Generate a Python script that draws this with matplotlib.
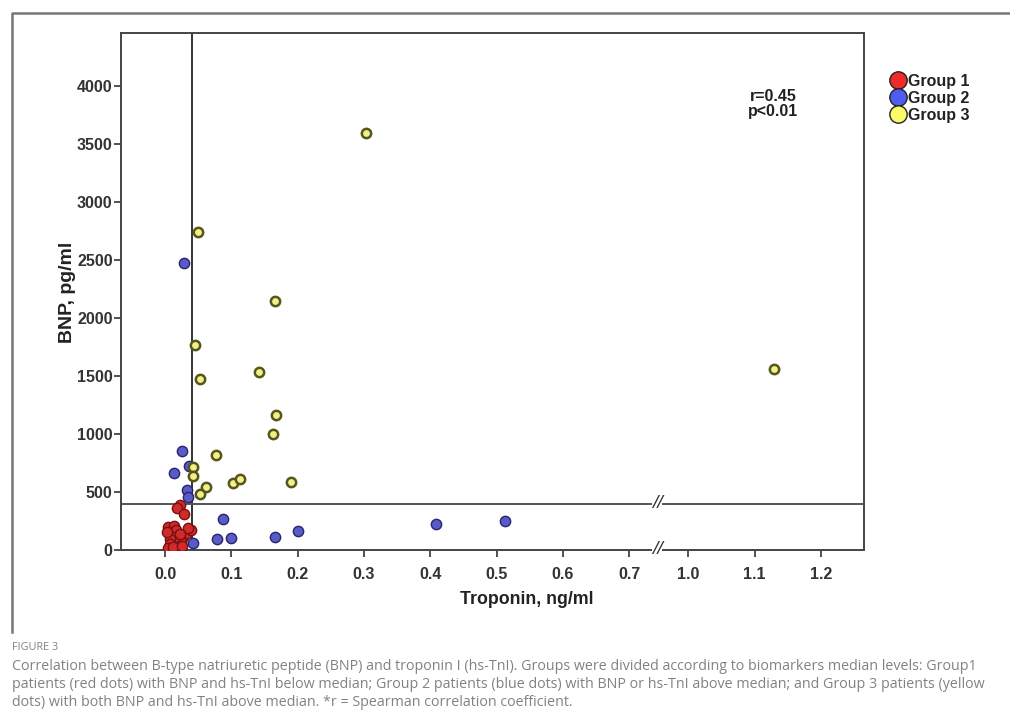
import numpy as np
import matplotlib
matplotlib.use("Agg")
import matplotlib.pyplot as plt
from matplotlib.lines import Line2D

# Group 1: BNP and hs-TnI below median
g1_trop = [0.023, 0.018, 0.028, 0.005, 0.013, 0.010, 0.017, 0.027, 0.033, 0.039,
           0.024, 0.015, 0.008, 0.007, 0.004, 0.012, 0.035, 0.003, 0.022, 0.025]
g1_bnp = [388, 365, 310, 201, 210, 158, 172, 115, 144, 172,
          72, 115, 92, 52, 15, 28, 187, 158, 138, 37]

# Group 2: BNP or hs-TnI above median
g2_trop = [0.028, 0.025, 0.014, 0.036, 0.033, 0.035, 0.087, 0.042, 0.079, 0.099,
           0.166, 0.200, 0.409, 0.513]
g2_bnp = [2470, 853, 661, 725, 517, 454, 264, 63, 95, 101,
          109, 166, 224, 250]

# Group 3: both above median
g3_trop = [0.303, 0.049, 0.166, 0.045, 0.052, 0.141, 0.168, 0.163, 0.077, 0.042,
           0.042, 0.062, 0.053, 0.103, 0.113, 0.190, 1.130]
g3_bnp = [3595, 2745, 2146, 1765, 1477, 1537, 1164, 1000, 819, 713,
          641, 540, 483, 578, 612, 584, 1560]

median_trop = 0.041
median_bnp = 397

xticks = [0.0, 0.1, 0.2, 0.3, 0.4, 0.5, 0.6, 0.7, 1.0, 1.1, 1.2]
yticks = [0, 500, 1000, 1500, 2000, 2500, 3000, 3500, 4000]


# broken x axis: 0.7 .. 1.0 squeezed
def fwd(x):
    x = np.asarray(x, dtype=float)
    return np.where(x <= 0.7, x,
                    np.where(x >= 1.0, x - 0.211, 0.7 + (x - 0.7) * 0.089 / 0.3))


def inv(t):
    t = np.asarray(t, dtype=float)
    return np.where(t <= 0.7, t,
                    np.where(t >= 0.789, t + 0.211, 0.7 + (t - 0.7) * 0.3 / 0.089))


sans = ["Liberation Sans", "DejaVu Sans"]
narrow = ["Liberation Sans Narrow", "Liberation Sans", "DejaVu Sans"]
bold = dict(family=sans, weight="bold")

fig = plt.figure(figsize=(10.10, 7.11), dpi=100)
ax = fig.add_axes([121 / 1010, 1 - 550 / 711, 743 / 1010, 517 / 711])
ax.set_xscale("function", functions=(fwd, inv))

ax.scatter(g1_trop, g1_bnp, s=55, c="#d02a2a", edgecolors="#7a1010", linewidths=1.0, zorder=3)
ax.scatter(g2_trop, g2_bnp, s=55, c="#5b5bc8", edgecolors="#25256e", linewidths=1.0, zorder=3)
ax.scatter(g3_trop, g3_bnp, s=45, c="#f2f08a", edgecolors="#55561a", linewidths=1.8, zorder=4)

ax.axvline(median_trop, color="#333333", lw=1.4, zorder=2)
ax.axhline(median_bnp, color="#555555", lw=1.4, zorder=2)

ax.set_xlim(-0.0664, 1.265)
ax.set_ylim(0, 4457)
ax.set_xticks(xticks)
ax.set_xticklabels([f"{v:.1f}" for v in xticks])
ax.set_yticks(yticks)
ax.set_yticklabels([str(v) for v in yticks])
ax.tick_params(axis="both", direction="out", length=5, width=1.2, color="#333333", pad=1)
for lab in ax.get_xticklabels() + ax.get_yticklabels():
    lab.set_fontfamily(narrow)
    lab.set_fontweight("bold")
    lab.set_fontsize(11.5)
    lab.set_color("#333333")
ax.tick_params(axis="x", pad=7)
for sp in ax.spines.values():
    sp.set_color("#444444")
    sp.set_linewidth(1.4)

# break marks
bx = inv(0.742)
for yy, tr in [(0, ax.get_xaxis_transform()), (median_bnp, ax.transData)]:
    ax.text(bx, yy, "//", ha="center", va="center", fontsize=14, color="#333333",
            transform=tr, zorder=6, clip_on=False, family=sans, style="italic",
            bbox=dict(facecolor="white", edgecolor="none", pad=0.0))

ax.set_xlabel("Troponin, ng/ml", fontsize=12.8, color="#222222", **bold)
ax.xaxis.set_label_coords((527 - 121) / 743, -(600 - 550) / 517)
ax.xaxis.label.set_va("center")
ax.set_ylabel("BNP, pg/ml", fontsize=14, color="#222222", **bold)
ax.yaxis.set_label_coords(-(121 - 67) / 743, (550 - 292) / 517)
ax.yaxis.label.set_va("center")

ax.text(773 / 1010, 1 - 104 / 711, "r=0.45\np<0.01", transform=fig.transFigure,
        ha="center", va="center", fontsize=11.5, linespacing=1.0,
        color="#222222", **bold)

handles = [Line2D([], [], marker="o", ls="none", markersize=12.5, markerfacecolor=c,
                  markeredgecolor="#222222", markeredgewidth=1.0)
           for c in ["#ee2a2a", "#4f5cf0", "#fafa6a"]]
leg = fig.legend(handles, ["Group 1", "Group 2", "Group 3"], loc="upper left",
                 bbox_to_anchor=(880 / 1010, 1 - 66 / 711), frameon=False,
                 handletextpad=0.05, labelspacing=0.12, borderpad=0, handlelength=1.2,
                 prop=dict(family=sans, weight="bold", size=11.5))
for t in leg.get_texts():
    t.set_color("#222222")

# outer frame of the figure panel
fig.add_artist(Line2D([12 / 1010, 12 / 1010, 1.0], [1 - 632 / 711, 1 - 13 / 711, 1 - 13 / 711],
                      transform=fig.transFigure, color="#777777", lw=1.8))

cap = dict(family=["Open Sans", "DejaVu Sans"], color="#828282", transform=fig.transFigure,
           ha="left", va="center")
fig.text(12 / 1010, 1 - 648 / 711, "FIGURE 3", fontsize=7.8, **cap)
lines = [
    "Correlation between B-type natriuretic peptide (BNP) and troponin I (hs-TnI). Groups were divided according to biomarkers median levels: Group1",
    "patients (red dots) with BNP and hs-TnI below median; Group 2 patients (blue dots) with BNP or hs-TnI above median; and Group 3 patients (yellow",
    "dots) with both BNP and hs-TnI above median. *r = Spearman correlation coefficient.",
]
for i, ln in enumerate(lines):
    fig.text(12 / 1010, 1 - (666 + 18 * i) / 711, ln, fontsize=10.3, **cap)

fig.savefig("out.png", dpi=100)
